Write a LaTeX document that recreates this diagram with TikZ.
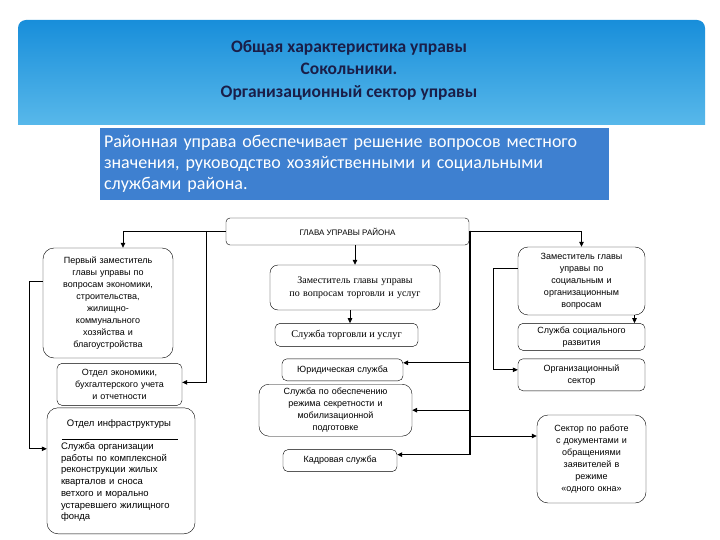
\documentclass[tikz,border=0pt]{standalone}
\usepackage{fontspec}
\setmainfont{Liberation Sans}
\newfontfamily\calib{Carlito}
\newfontfamily\timesf{Liberation Serif}
\usetikzlibrary{arrows.meta,positioning}

\definecolor{hdrtop}{RGB}{24,142,218}
\definecolor{hdrbot}{RGB}{88,184,234}
\definecolor{infoblue}{RGB}{62,128,208}
\definecolor{titlenavy}{RGB}{26,30,72}

\begin{document}
\begin{tikzpicture}[
  x=1pt, y=-1pt,
  block/.style={draw, rounded corners=5pt, align=center, inner sep=2pt,
    font=\fontsize{9}{12}\selectfont},
  bigblock/.style={block, rounded corners=11pt},
  arr/.style={-{Triangle[length=5pt,width=4.5pt]}, line width=0.8pt},
  thickarr/.style={arr, line width=1.2pt}
]
\useasboundingbox (0,0) rectangle (720,540);

% Header
\shade[top color=hdrtop, bottom color=hdrbot] (18,125) [rounded corners=8pt] -- (18,20) -- (705,20) [sharp corners] -- (705,125) -- cycle;
\node[font=\calib\bfseries\fontsize{17.5}{22.5}\selectfont, text=titlenavy, align=center] (title) at (349,70)
  {Общая характеристика управы\\Сокольники.\\Организационный сектор управы};

% Info box
\node[fill=infoblue, text=white, align=left, text width=501pt, minimum height=72pt, inner xsep=4pt,
  font=\calib\fontsize{18}{21}\selectfont] (info) at (354.5,164)
  {Районная управа обеспечивает решение вопросов местного\\значения, руководство хозяйственными и социальными\\службами района.};

% Head
\node[draw, rounded corners=4pt, minimum width=243pt, minimum height=27pt,
  font=\fontsize{8}{9}\selectfont] (head) at (347.5,231.5) {ГЛАВА УПРАВЫ РАЙОНА};

% Left column
\node[bigblock, text width=124pt, minimum width=130pt, minimum height=110pt] (dep1) at (108,303)
  {Первый заместитель\\главы управы по\\вопросам экономики,\\строительства,\\жилищно-\\коммунального\\хозяйства и\\благоустройства};
\node[block, below=5pt of dep1, xshift=11.5pt, text width=119pt, minimum width=125pt, minimum height=42pt] (ekon)
  {Отдел экономики,\\бухгалтерского учета\\и отчетности};
\node[bigblock, below=2pt of ekon, xshift=1.5pt, align=left, text width=120pt, minimum width=148pt,
  minimum height=126pt, font=\fontsize{9.5}{11.7}\selectfont] (infra)
  {\makebox[116pt]{Отдел инфраструктуры}\\[11pt]Служба организации\\работы по комплексной\\реконструкции жилых\\кварталов и сноса\\ветхого и морально\\устаревшего жилищного\\фонда};
\draw ([xshift=15pt,yshift=-32pt]infra.north west) -- ([xshift=-17pt,yshift=-32pt]infra.north east);

% Middle column
\node[block, rounded corners=8pt, text width=164pt, minimum width=170pt, minimum height=45pt,
  font=\timesf\fontsize{10}{13}\selectfont] (zamtorg) at (355,287.5)
  {Заместитель главы управы\\по вопросам торговли  и услуг};
\node[block, below=13pt of zamtorg, xshift=-8.5pt, minimum width=143pt, minimum height=23pt,
  font=\timesf\fontsize{10.3}{12}\selectfont] (sluzhtorg) {Служба торговли и услуг};
\node[block, below=12pt of sluzhtorg, xshift=-4pt, minimum width=121pt, minimum height=22pt] (yur)
  {Юридическая служба};
\node[block, rounded corners=10pt, below=3pt of yur, xshift=-7pt, text width=149pt, minimum width=153pt,
  minimum height=52pt] (sekret)
  {Служба по обеспечению\\режима секретности и\\мобилизационной\\подготовке};
\node[block, below=13pt of sekret, xshift=4.5pt, minimum width=114pt, minimum height=22pt] (kadr)
  {Кадровая служба};

% Right column
\node[bigblock, rounded corners=10pt, text width=121pt, minimum width=127pt, minimum height=68pt] (dep2) at (581.5,281)
  {Заместитель главы\\управы по\\социальным  и\\организационным\\вопросам};
\node[block, below=8pt of dep2, text width=121pt, minimum width=127pt, minimum height=27pt] (soc)
  {Служба социального\\развития};
\node[block, below=8pt of soc, text width=121pt, minimum width=127pt, minimum height=32pt] (org)
  {Организационный\\сектор};
\node[bigblock, text width=103pt, minimum width=109pt, minimum height=88pt] (sektor) at (591.5,459)
  {Сектор по работе\\с документами и\\обращениями\\заявителей в\\режиме\\«одного окна»};

% Connectors from the head
\coordinate (jl) at (206,231);
\coordinate (jr) at (470,231);
\draw[arr] (head.west) -| ([xshift=15pt]dep1.north);
\draw[arr] (jl) |- ([yshift=2pt]ekon.east);
\draw[arr] (head.east) -| (dep2.north);
\draw[arr] (zamtorg.north |- head.south) -- (zamtorg.north);
\draw[arr] ([xshift=-5pt]zamtorg.south) -- ([xshift=-5pt]zamtorg.south |- sluzhtorg.north);
\draw[thickarr] (jr) |- ([yshift=7pt]yur.east);
\draw[thickarr] (jr) |- (sekret.east);
\draw[thickarr] (jr) |- ([yshift=6pt]kadr.east);
\draw[arr] (jr) |- ([yshift=23pt]sektor.west);

% Inner links
\draw[arr] ([yshift=22pt]dep1.west) -- ++(-13pt,0) |- ([yshift=22pt]infra.west);
\draw[arr] ([xshift=53pt]dep2.south) -- ([xshift=53pt]soc.north);
\draw[arr] ([yshift=13pt]dep2.west) -- ++(-24pt,0) |- ([yshift=5pt]org.west);
\end{tikzpicture}
\end{document}
